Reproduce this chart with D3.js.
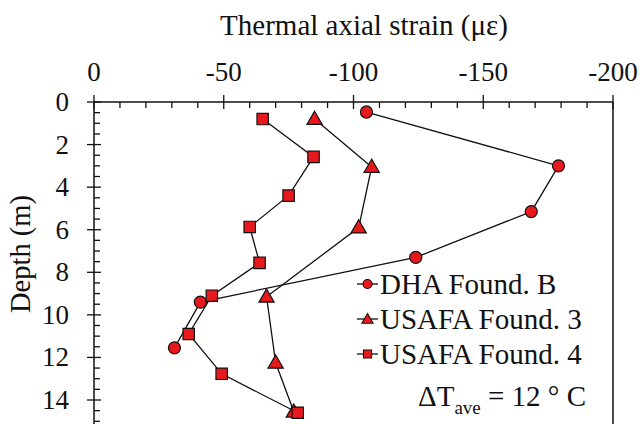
<!DOCTYPE html>
<html>
<head>
<meta charset="utf-8">
<script src="https://cdn.jsdelivr.net/npm/d3@7"></script>
<style>
  body { margin: 0; background: #fff; }
  svg text { font-family: "Liberation Serif", "DejaVu Serif", serif; fill: #111; }
</style>
</head>
<body>
<div id="chart"></div>
<script>
// data: depth (m) and thermal axial strain (με)
var seriesNames = ["DHA Found. B", "USAFA Found. 3", "USAFA Found. 4"];
var dhaDepth = [0.47, 3.0, 5.15, 7.3, 9.4, 11.55];
var dhaStrain = [-105, -179, -168.5, -124, -41, -31];
var usafa3Depth = [0.8, 3.05, 5.9, 9.15, 12.25, 14.55];
var usafa3Strain = [-85, -107, -102, -66.5, -70, -77];
var usafa4Depth = [0.8, 2.58, 4.4, 5.87, 7.56, 9.1, 10.9, 12.77, 14.6];
var usafa4Strain = [-65, -84.6, -75, -60, -63.8, -45.4, -36.5, -49.2, -78.5];
var xTicks = [0, -50, -100, -150, -200];
var yTicks = [0, 2, 4, 6, 8, 10, 12, 14];

var width = 642, height = 424;
var plotLeft = 94, plotTop = 102, plotRight = 613, y14 = 400;
var red = "#e8191c";

var svg = d3.select("#chart").append("svg")
    .attr("width", width)
    .attr("height", height);

var x = d3.scaleLinear().domain([0, -200]).range([plotLeft, plotRight]);
var y = d3.scaleLinear().domain([0, 14]).range([plotTop, y14]);
var yEnd = y.invert(height + 4);

var toRows = function (depth, strain) {
  return depth.map(function (d, i) { return { depth: d, strain: strain[i] }; });
};
var series = [
  { name: seriesNames[0], shape: "circle", rows: toRows(dhaDepth, dhaStrain) },
  { name: seriesNames[1], shape: "triangle", rows: toRows(usafa3Depth, usafa3Strain) },
  { name: seriesNames[2], shape: "square", rows: toRows(usafa4Depth, usafa4Strain) }
];

// frame: top axis, left axis, right border
svg.append("line")
    .attr("x1", x(0)).attr("x2", x(-200))
    .attr("y1", y(0)).attr("y2", y(0))
    .attr("stroke", "#111").attr("stroke-width", 1.5);
svg.append("line")
    .attr("x1", x(0)).attr("x2", x(0))
    .attr("y1", y(0)).attr("y2", y(yEnd))
    .attr("stroke", "#111").attr("stroke-width", 1.5);
svg.append("line")
    .attr("x1", x(-200)).attr("x2", x(-200))
    .attr("y1", y(0)).attr("y2", y(yEnd))
    .attr("stroke", "#111").attr("stroke-width", 1.5);

// x ticks (minor every 10, major every 50)
var xMinor = d3.range(0, -201, -10);
svg.append("g").selectAll("line")
    .data(xMinor)
    .enter().append("line")
    .attr("x1", function (d) { return x(d); })
    .attr("x2", function (d) { return x(d); })
    .attr("y1", function (d) { return d % 50 === 0 ? y(0) - 7 : y(0); })
    .attr("y2", function (d) { return d % 50 === 0 ? y(0) + 7 : y(0) + 6; })
    .attr("stroke", "#111").attr("stroke-width", 1.3);

svg.append("g").selectAll("text")
    .data(xTicks)
    .enter().append("text")
    .attr("x", function (d) { return x(d); })
    .attr("y", 81)
    .attr("text-anchor", "middle")
    .attr("font-size", "27px")
    .text(function (d) { return d; });

// y ticks (minor every 0.5, major every 2)
var yMinor = d3.range(0, yEnd, 0.5);
svg.append("g").selectAll("line")
    .data(yMinor)
    .enter().append("line")
    .attr("x1", function (d) { return d % 2 === 0 ? x(0) - 7 : x(0); })
    .attr("x2", function (d) { return d % 2 === 0 ? x(0) + 7 : x(0) + 6; })
    .attr("y1", function (d) { return y(d); })
    .attr("y2", function (d) { return y(d); })
    .attr("stroke", "#111").attr("stroke-width", 1.3);

svg.append("g").selectAll("text")
    .data(yTicks)
    .enter().append("text")
    .attr("x", 69)
    .attr("y", function (d) { return y(d) + 9; })
    .attr("text-anchor", "end")
    .attr("font-size", "27px")
    .text(function (d) { return d; });

// axis titles
svg.append("text")
    .attr("x", 364).attr("y", 35)
    .attr("text-anchor", "middle")
    .attr("font-size", "29px")
    .text("Thermal axial strain (με)");

svg.append("text")
    .attr("transform", "translate(30," + 254 + ") rotate(-90)")
    .attr("text-anchor", "middle")
    .attr("font-size", "28.5px")
    .text("Depth (m)");

// markers
var symbolFor = function (shape, size) {
  var t = shape === "circle" ? d3.symbolCircle : shape === "triangle" ? d3.symbolTriangle : d3.symbolSquare;
  return d3.symbol().type(t).size(size)();
};
var sizeFor = { circle: 115, triangle: 100, square: 130 };

var line = d3.line()
    .x(function (d) { return x(d.strain); })
    .y(function (d) { return y(d.depth); });

series.forEach(function (s) {
  svg.append("path")
      .datum(s.rows)
      .attr("d", line)
      .attr("fill", "none")
      .attr("stroke", "#111")
      .attr("stroke-width", 1.3);
});

series.forEach(function (s) {
  svg.append("g").selectAll("path")
      .data(s.rows)
      .enter().append("path")
      .attr("d", symbolFor(s.shape, sizeFor[s.shape]))
      .attr("transform", function (d) {
        var dy = s.shape === "triangle" ? 1 : 0;
        return "translate(" + x(d.strain) + "," + (y(d.depth) + dy) + ")";
      })
      .attr("fill", red)
      .attr("stroke", "#111")
      .attr("stroke-width", 1.2);
});

// legend
var legend = svg.append("g");
series.forEach(function (s, i) {
  var ly = 284 + i * 35;
  legend.append("line")
      .attr("x1", 357).attr("x2", 378)
      .attr("y1", ly).attr("y2", ly)
      .attr("stroke", "#111").attr("stroke-width", 1.3);
  legend.append("path")
      .attr("d", symbolFor(s.shape, s.shape === "triangle" ? 55 : 65))
      .attr("transform", "translate(367.5," + (ly + (s.shape === "triangle" ? 1 : 0)) + ")")
      .attr("fill", red)
      .attr("stroke", "#111")
      .attr("stroke-width", 1.1);
  legend.append("text")
      .attr("x", 380).attr("y", ly + 9.5)
      .attr("font-size", "29px")
      .text(s.name);
});

// annotation
var ann = svg.append("text")
    .attr("x", 418).attr("y", 406)
    .attr("font-size", "29px");
ann.append("tspan").text("ΔT");
ann.append("tspan").attr("font-size", "19px").attr("dy", 8).text("ave");
ann.append("tspan").attr("dy", -8).text(" = 12 ° C");
</script>
</body>
</html>
